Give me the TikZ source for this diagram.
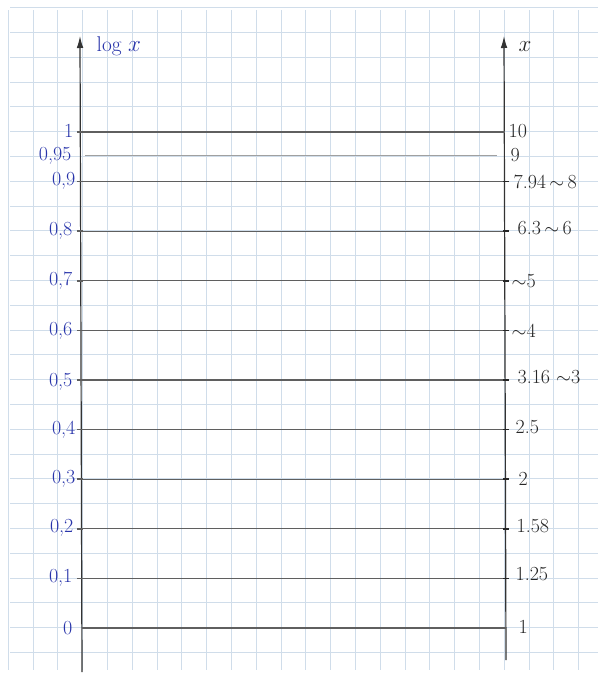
\documentclass[tikz,border=0pt]{standalone}
\usetikzlibrary{arrows.meta}
\definecolor{gridc}{RGB}{208,221,234}
\definecolor{inkblue}{RGB}{40,52,170}
\definecolor{pencil}{RGB}{95,95,95}
\definecolor{pencillight}{RGB}{160,160,160}
\begin{document}
\begin{tikzpicture}[x=0.75pt,y=-0.75pt,
  gridline/.style={gridc,line width=0.7pt},
  levelline/.style={pencil,line width=0.8pt},
  axisline/.style={black!80,line width=0.9pt,-{Latex[length=9pt,width=5pt]}},
  lefttick/.style={pencil,line width=1.1pt},
  righttick/.style={black!85,line width=1.3pt},
  leftlab/.style={inkblue,font=\fontsize{15}{17}\selectfont,anchor=east,inner sep=1pt},
  rightlab/.style={black!85,font=\fontsize{15}{17}\selectfont,anchor=west,inner sep=1pt}]
\useasboundingbox (0,0) rectangle (598,675);
\fill[white] (0,0) rectangle (598,675);
% graph paper
\foreach \k in {0,...,23} {
  \draw[gridline] ({8.3+24.8*\k},10) -- ({8.3+24.8*\k},670);
}
\foreach \k in {0,...,26} {
  \draw[gridline] (10,{7.7+24.8*\k}) -- (598,{7.7+24.8*\k});
}
% axes
\coordinate (Lb) at (82,672);
\coordinate (Lt) at (80,36);
\coordinate (Rb) at (506,660);
\coordinate (Rt) at (504,36);
\draw[axisline] (Lb) -- (Lt);
\draw[axisline] (Rb) -- (Rt);
\node[inkblue,font=\fontsize{16}{18}\selectfont,anchor=west] (lx) at (92,46) {log $x$};
\node[black!85,font=\fontsize{16}{18}\selectfont,anchor=west] (rx) at (514,47) {$x$};
% level lines
\foreach \k in {1,...,10} {
  \draw[levelline] (82,{628-49.6*\k}) -- (505,{628-49.6*\k});
  \draw[lefttick] (77,{628-49.6*\k}) -- (83,{628-49.6*\k});
}
\draw[levelline] (82,628) -- (506,628);
\draw[pencillight,line width=0.7pt] (85,155) -- (497,155);
% right ticks
\foreach \k in {1,...,9} {
  \draw[righttick] (503,{628-49.6*\k}) -- (509,{628-49.6*\k});
}
% left labels
\node[leftlab] (l10) at (75,131) {1};
\node[leftlab] (l095) at (73,156) {0,95};
\node[leftlab] (l09) at (77,181) {0,9};
\node[leftlab] (l08) at (74,231) {0,8};
\node[leftlab] (l07) at (74,281) {0,7};
\node[leftlab] (l06) at (74,331) {0,6};
\node[leftlab] (l05) at (74,382) {0,5};
\node[leftlab] (l04) at (77,430) {0,4};
\node[leftlab] (l03) at (77,479) {0,3};
\node[leftlab] (l02) at (75,528) {0,2};
\node[leftlab] (l01) at (74,578) {0,1};
\node[leftlab] (l00) at (74,628) {0};
% right labels
\node[rightlab] (r10) at (507,131) {10};
\node[rightlab] (r9) at (509,155) {9};
\node[rightlab] (r8) at (512,182) {7.94\,$\sim$\,8};
\node[rightlab] (r6) at (516,228) {6.3\,$\sim$\,6};
\node[rightlab] (r5) at (510,281) {$\sim$5};
\node[rightlab] (r4) at (510,331) {$\sim$4};
\node[rightlab] (r3) at (516,377) {3.16 $\sim$3};
\node[rightlab] (r25) at (514,427) {2.5};
\node[rightlab] (r2) at (517,479) {2};
\node[rightlab] (r158) at (515,526) {1.58};
\node[rightlab] (r125) at (514,574) {1.25};
\node[rightlab] (r1) at (517,627) {1};
\end{tikzpicture}
\end{document}
